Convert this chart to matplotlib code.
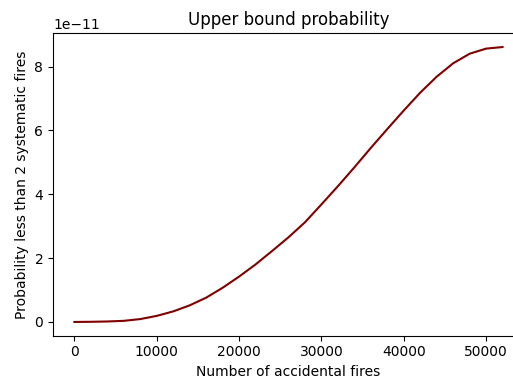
import numpy as np
import matplotlib
matplotlib.use("Agg")
import matplotlib.pyplot as plt

# Number of accidental fires vs probability (units of 1e-11)
accidental_fires = [0, 2000, 4000, 6000, 8000, 10000, 12000, 14000, 16000, 18000,
                    20000, 22000, 24000, 26000, 28000, 30000, 32000, 34000, 36000,
                    38000, 40000, 42000, 44000, 46000, 48000, 50000, 52000]
prob_scaled = [0, 0.005, 0.015, 0.035, 0.09, 0.19, 0.33, 0.52, 0.76, 1.07,
               1.42, 1.80, 2.22, 2.65, 3.12, 3.68, 4.25, 4.84, 5.45,
               6.04, 6.62, 7.18, 7.68, 8.10, 8.40, 8.56, 8.61]
probability = np.array(prob_scaled) * 1e-11

fig = plt.figure(figsize=(5.13, 3.83), dpi=100)
ax = fig.add_axes([0.1033, 0.1235, 0.918, 0.7896])
ax.plot(accidental_fires, probability, color="#800000", linewidth=1.5)
ax.set_title("Upper bound probability")
ax.set_xlabel("Number of accidental fires")
ax.set_ylabel("Probability less than 2 systematic fires")

fig.savefig("out.png", dpi=100)
